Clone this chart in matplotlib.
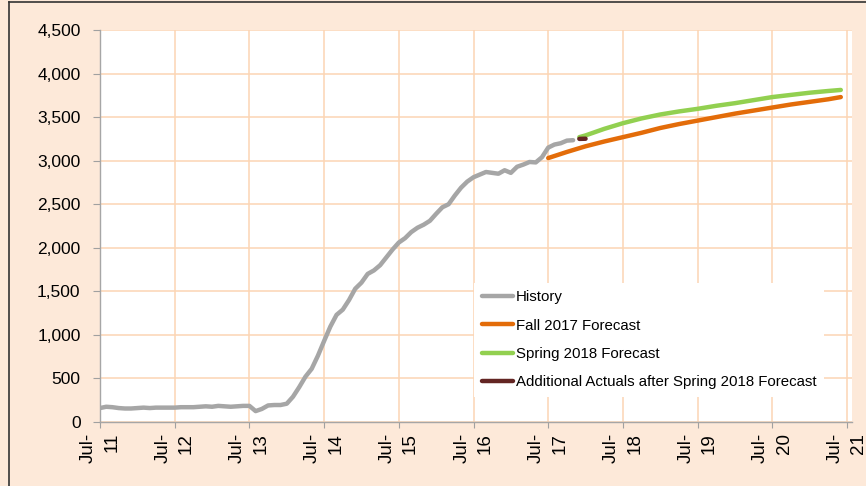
import matplotlib
matplotlib.use("Agg")
import matplotlib.pyplot as plt
from matplotlib.lines import Line2D
from matplotlib.ticker import FuncFormatter

plt.rcParams['font.family'] = ['Liberation Sans', 'DejaVu Sans']

# x positions are months since Jul-2011
tick_labels = ["Jul-\n11", "Jul-\n12", "Jul-\n13", "Jul-\n14", "Jul-\n15", "Jul-\n16",
               "Jul-\n17", "Jul-\n18", "Jul-\n19", "Jul-\n20", "Jul-\n21"]
tick_months = [0, 12, 24, 36, 48, 60, 72, 84, 96, 108, 120]

# History (monthly, Jul-11 .. Nov-17)
history_months = list(range(0, 77))
history_values = [
    160, 175, 170, 160, 155, 155, 160, 165, 160, 165, 165, 165,      # Jul-11..Jun-12
    165, 170, 170, 170, 175, 180, 175, 185, 180, 175, 180, 185,      # Jul-12..Jun-13
    185, 125, 150, 190, 195, 195, 210, 290, 400, 520, 610, 760,      # Jul-13..Jun-14
    930, 1095, 1230, 1290, 1400, 1530, 1600, 1700, 1740, 1800, 1890, 1980,  # Jul-14..Jun-15
    2060, 2110, 2180, 2230, 2265, 2310, 2390, 2465, 2500, 2600, 2690, 2760,  # Jul-15..Jun-16
    2810, 2840, 2870, 2860, 2850, 2890, 2860, 2930, 2955, 2985, 2980, 3040,  # Jul-16..Jun-17
    3150, 3185, 3200, 3230, 3235,                                         # Jul-17..Nov-17
]

# Fall 2017 forecast (quarterly points, Jul-17 .. Jun-21)
fall_months = [72, 75, 78, 81, 84, 87, 90, 93, 96, 99, 102, 105, 108, 111, 114, 117, 119]
fall_values = [3030, 3100, 3165, 3220, 3270, 3320, 3375, 3420, 3460, 3500, 3540, 3575,
               3610, 3645, 3675, 3705, 3730]

# Spring 2018 forecast (Dec-17 .. Jun-21)
spring_months = [77, 78, 81, 84, 87, 90, 93, 96, 99, 102, 105, 108, 111, 114, 117, 119]
spring_values = [3270, 3290, 3365, 3430, 3485, 3530, 3565, 3595, 3630, 3660, 3695, 3730,
                 3755, 3780, 3800, 3812]

# Additional actuals after Spring 2018 forecast
actual_months = [77, 78]
actual_values = [3250, 3252]

series_labels = ["History", "Fall 2017 Forecast", "Spring 2018 Forecast",
                 "Additional Actuals after Spring 2018 Forecast"]
series_colors = ["#A6A6A6", "#E36C09", "#92D050", "#632523"]

bg = "#FDE9D9"
grid_c = "#FCD5B4"

fig = plt.figure(figsize=(8.66, 4.86), dpi=100, facecolor=bg)
ax = fig.add_axes([100/866, 1-422/486, (852-100)/866, (422-30)/486])
ax.set_facecolor("white")

lw = 3.2
ax.plot(history_months, history_values, color=series_colors[0], lw=lw,
        solid_capstyle='round', solid_joinstyle='round', label=series_labels[0], zorder=3)
ax.plot(fall_months, fall_values, color=series_colors[1], lw=lw,
        solid_capstyle='round', solid_joinstyle='round', label=series_labels[1], zorder=3)
ax.plot(spring_months, spring_values, color=series_colors[2], lw=lw,
        solid_capstyle='round', solid_joinstyle='round', label=series_labels[2], zorder=3)
ax.plot(actual_months, actual_values, color=series_colors[3], lw=lw,
        solid_capstyle='round', solid_joinstyle='round', label=series_labels[3], zorder=4)

ax.set_xlim(0, 120.8)
ax.set_ylim(0, 4500)
ax.set_xticks(tick_months)
ax.set_xticklabels(tick_labels, rotation=90, multialignment='right',
                   fontsize=13.5, va='top', ha='center', linespacing=1.5)
ax.set_yticks(range(0, 4501, 500))
ax.yaxis.set_major_formatter(FuncFormatter(lambda v, p: f"{int(v):,}"))
ax.tick_params(axis='y', labelsize=12.5, length=5, color="#A0A0A0", pad=9)
ax.tick_params(axis='x', length=4, color="#A0A0A0", pad=4)

ax.grid(True, color=grid_c, lw=1.1, zorder=0)
ax.set_axisbelow(True)
for s in ["top", "right"]:
    ax.spines[s].set_visible(False)
for s in ["left", "bottom"]:
    ax.spines[s].set_color("#A6A6A6")
    ax.spines[s].set_linewidth(1.0)

leg = ax.legend(loc='upper left', bbox_to_anchor=(474/866, 1-283/486),
                bbox_transform=fig.transFigure, fontsize=10.8, frameon=True,
                fancybox=False, framealpha=1, facecolor='white', edgecolor='none',
                handlelength=2.1, handletextpad=0.2, labelspacing=0.95,
                borderpad=0.5, borderaxespad=0)
for h in leg.get_lines():
    h.set_linewidth(3.2)
    h.set_solid_capstyle('round')

# outer frame (left and top edges visible)
fig.add_artist(Line2D([9/866, 9/866], [0, 1-2/486], transform=fig.transFigure,
                      color="#333333", lw=1.2))
fig.add_artist(Line2D([9/866, 1], [1-2/486, 1-2/486], transform=fig.transFigure,
                      color="#333333", lw=1.2))

fig.savefig("out.png", dpi=100, facecolor=bg)
